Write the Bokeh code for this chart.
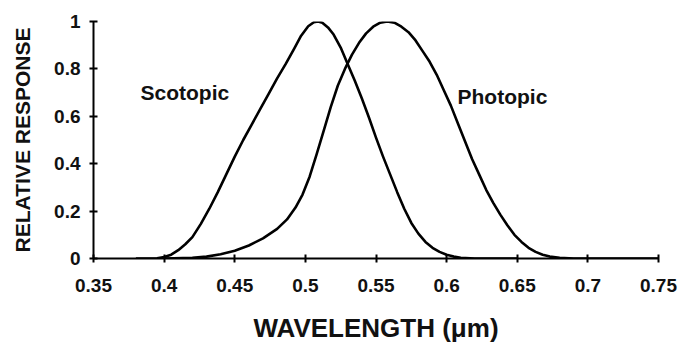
from bokeh.plotting import figure
from bokeh.models import Range1d, FixedTicker
from bokeh.core.properties import value
from bokeh.embed import file_html
from bokeh.resources import INLINE

# ---- data ----
scot_wl = [0.380, 0.390, 0.395, 0.400, 0.405, 0.410, 0.415, 0.420, 0.426, 0.432, 0.438, 0.444,
           0.450, 0.456, 0.462, 0.468, 0.474, 0.480, 0.486, 0.492, 0.497, 0.502, 0.506, 0.509,
           0.512, 0.516, 0.520, 0.525, 0.530, 0.535, 0.540, 0.545, 0.550, 0.555, 0.560, 0.565,
           0.570, 0.575, 0.580, 0.585, 0.590, 0.595, 0.600, 0.605, 0.610, 0.620, 0.650]
scot_val = [0.0, 0.0, 0.001, 0.006, 0.016, 0.035, 0.06, 0.09, 0.146, 0.21, 0.28, 0.355,
            0.43, 0.50, 0.565, 0.63, 0.695, 0.76, 0.82, 0.885, 0.94, 0.98, 0.997, 1.0,
            0.995, 0.975, 0.945, 0.89, 0.82, 0.75, 0.675, 0.595, 0.51, 0.43, 0.355, 0.28,
            0.21, 0.15, 0.105, 0.07, 0.045, 0.028, 0.016, 0.008, 0.003, 0.0, 0.0]

photo_wl = [0.400, 0.420, 0.430, 0.440, 0.450, 0.460, 0.470, 0.480, 0.487, 0.493, 0.498, 0.503,
            0.508, 0.513, 0.518, 0.523, 0.528, 0.533, 0.538, 0.543, 0.548, 0.553, 0.558, 0.563,
            0.568, 0.573, 0.578, 0.583, 0.588, 0.593, 0.598, 0.603, 0.608, 0.613, 0.618, 0.623,
            0.628, 0.633, 0.638, 0.643, 0.648, 0.653, 0.658, 0.663, 0.668, 0.673, 0.680, 0.690,
            0.750]
photo_val = [0.0, 0.003, 0.008, 0.018, 0.033, 0.055, 0.085, 0.125, 0.165, 0.215, 0.27, 0.345,
             0.44, 0.54, 0.64, 0.73, 0.80, 0.86, 0.91, 0.95, 0.978, 0.995, 1.0, 0.995,
             0.978, 0.955, 0.92, 0.875, 0.83, 0.775, 0.71, 0.645, 0.57, 0.495, 0.42, 0.355,
             0.29, 0.235, 0.185, 0.14, 0.10, 0.07, 0.045, 0.028, 0.016, 0.008, 0.003, 0.0,
             0.0]

x_ticks = [0.35, 0.4, 0.45, 0.5, 0.55, 0.6, 0.65, 0.7, 0.75]
x_tick_labels = ["0.35", "0.4", "0.45", "0.5", "0.55", "0.6", "0.65", "0.7", "0.75"]
y_ticks = [0, 0.2, 0.4, 0.6, 0.8, 1.0]
y_tick_labels = ["0", "0.2", "0.4", "0.6", "0.8", "1"]

x_title = "WAVELENGTH (\u03bcm)"
y_title = "RELATIVE RESPONSE"
curve_names = ["Scotopic", "Photopic"]

FONT = "Liberation Sans"

p = figure(width=681, height=347, output_backend="svg", toolbar_location=None,
           x_range=Range1d(0.35, 0.75), y_range=Range1d(0, 1),
           min_border_left=93, min_border_right=23, min_border_top=21, min_border_bottom=89)
p.outline_line_color = None
p.xgrid.visible = False
p.ygrid.visible = False
p.background_fill_color = "white"
p.border_fill_color = "white"

p.line(scot_wl, scot_val, line_color="black", line_width=2.6, line_join="round")
p.line(photo_wl, photo_val, line_color="black", line_width=2.6, line_join="round")

p.text(x=[0.3833], y=[0.70], text=[curve_names[0]], text_font=value(FONT),
       text_font_style="bold", text_font_size="21px", text_color="#111111",
       text_baseline="alphabetic", text_align="left")
p.text(x=[0.6077], y=[0.684], text=[curve_names[1]], text_font=value(FONT),
       text_font_style="bold", text_font_size="21px", text_color="#111111",
       text_baseline="alphabetic", text_align="left")

for ax, ticks, labels in ((p.xaxis[0], x_ticks, x_tick_labels), (p.yaxis[0], y_ticks, y_tick_labels)):
    ax.ticker = FixedTicker(ticks=ticks)
    ax.major_label_overrides = {t: l for t, l in zip(ticks, labels)}
    ax.minor_tick_line_color = None
    ax.axis_line_width = 2
    ax.axis_line_color = "black"
    ax.major_tick_line_width = 2
    ax.major_tick_line_color = "black"
    ax.major_tick_in = 4
    ax.major_tick_out = 4
    ax.major_label_text_font = FONT
    ax.major_label_text_font_style = "bold"
    ax.major_label_text_font_size = "19px"
    ax.major_label_text_color = "#111111"
    ax.axis_label_text_font = FONT
    ax.axis_label_text_font_style = "bold"
    ax.axis_label_text_color = "#111111"

p.xaxis[0].major_label_standoff = 16
p.yaxis[0].major_label_standoff = 9

p.yaxis[0].axis_label = y_title
p.yaxis[0].axis_label_text_font_size = "21px"
p.yaxis[0].axis_label_standoff = 17

p.xaxis[0].axis_label = x_title
p.xaxis[0].axis_label_text_font_size = "26px"
p.xaxis[0].axis_label_standoff = 18

open("out.html", "w").write(file_html(p, INLINE))
